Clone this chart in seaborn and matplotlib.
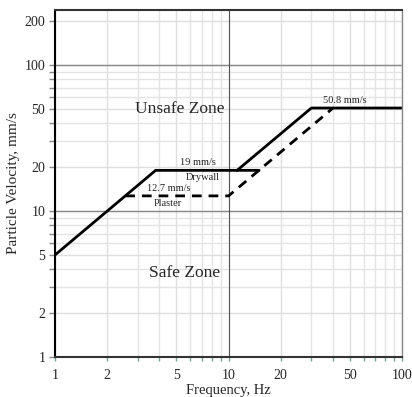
import numpy as np
import pandas as pd
import matplotlib
matplotlib.use("Agg")
import matplotlib.pyplot as plt
import seaborn as sns
from matplotlib.ticker import NullFormatter, LogLocator

# Data
drywall_freq = [1, 3.8, 15]
drywall_vel = [5, 19, 19]
upper_freq = [11.2, 30, 100]
upper_vel = [19, 50.8, 50.8]
plaster_freq = [2.54, 10, 40]
plaster_vel = [12.7, 12.7, 50.8]

x_ticks = [1, 2, 5, 10, 20, 50, 100]
y_ticks = [1, 2, 5, 10, 20, 50, 100, 200]

sns.set_style("white")
plt.rcParams['font.family'] = ['Liberation Serif', 'DejaVu Serif']

fig = plt.figure(figsize=(4.12, 3.97), dpi=100)
ax = fig.add_axes([0.1335, 0.1008, 0.8425, 0.875])

# grid
ax.set_xscale('log')
ax.set_yscale('log')
ax.set_xlim(1, 100)
ax.set_ylim(1, 240)
ax.xaxis.set_minor_locator(LogLocator(base=10, subs=np.arange(2, 10)))
ax.yaxis.set_minor_locator(LogLocator(base=10, subs=np.arange(2, 10)))
ax.grid(True, which='minor', color='#e4e4e4', linewidth=1.0)
ax.grid(True, which='major', color='#dedede', linewidth=1.0)
for v in [10, 100]:
    ax.axhline(v, color='#8a8a8a', linewidth=1.0, zorder=1)
ax.axvline(10, color='#555555', linewidth=0.8, zorder=1)

df1 = pd.DataFrame({'f': drywall_freq, 'v': drywall_vel})
df2 = pd.DataFrame({'f': upper_freq, 'v': upper_vel})
df3 = pd.DataFrame({'f': plaster_freq, 'v': plaster_vel})
sns.lineplot(data=df1, x='f', y='v', ax=ax, color='black', linewidth=2, sort=False)
sns.lineplot(data=df2, x='f', y='v', ax=ax, color='black', linewidth=2, sort=False)
sns.lineplot(data=df3, x='f', y='v', ax=ax, color='black', linewidth=2,
             linestyle=(0, (3.5, 2.5)), sort=False)

ax.set_xticks(x_ticks)
ax.set_xticklabels([str(t) for t in x_ticks])
ax.set_yticks(y_ticks)
ax.set_yticklabels([str(t) for t in y_ticks])
ax.xaxis.set_minor_formatter(NullFormatter())
ax.yaxis.set_minor_formatter(NullFormatter())
ax.tick_params(axis='x', which='both', direction='out', length=3, width=1,
               color='#7fa0a0', labelsize=10, pad=6, bottom=True)
ax.tick_params(axis='y', which='both', direction='out', length=4, width=1,
               color='#888888', labelsize=10, pad=3, left=True)

ax.set_xlabel('Frequency, Hz', fontsize=10.5, labelpad=1)
ax.set_ylabel('Particle Velocity, mm/s', fontsize=11, labelpad=3)

for side, col, lw in [('left', 'black', 1.5), ('bottom', '#333333', 1.5),
                      ('top', '#333333', 1.5), ('right', '#888888', 1.0)]:
    ax.spines[side].set_visible(True)
    ax.spines[side].set_color(col)
    ax.spines[side].set_linewidth(lw)

ax.text(5.25, 50, 'Unsafe Zone', fontsize=12.5, ha='center', va='center')
ax.text(5.6, 3.75, 'Safe Zone', fontsize=12.5, ha='center', va='center')
ax.text(6.7, 20.0, '19 mm/s', fontsize=7.5, ha='center', va='bottom')
ax.text(7.1, 18.2, 'Drywall', fontsize=7.5, ha='center', va='top')
ax.text(4.5, 13.3, '12.7 mm/s', fontsize=7.5, ha='center', va='bottom')
ax.text(4.5, 12.1, 'Plaster', fontsize=7.5, ha='center', va='top')
ax.text(47, 53, '50.8 mm/s', fontsize=7.5, ha='center', va='bottom')

fig.savefig('out.png', dpi=100)
